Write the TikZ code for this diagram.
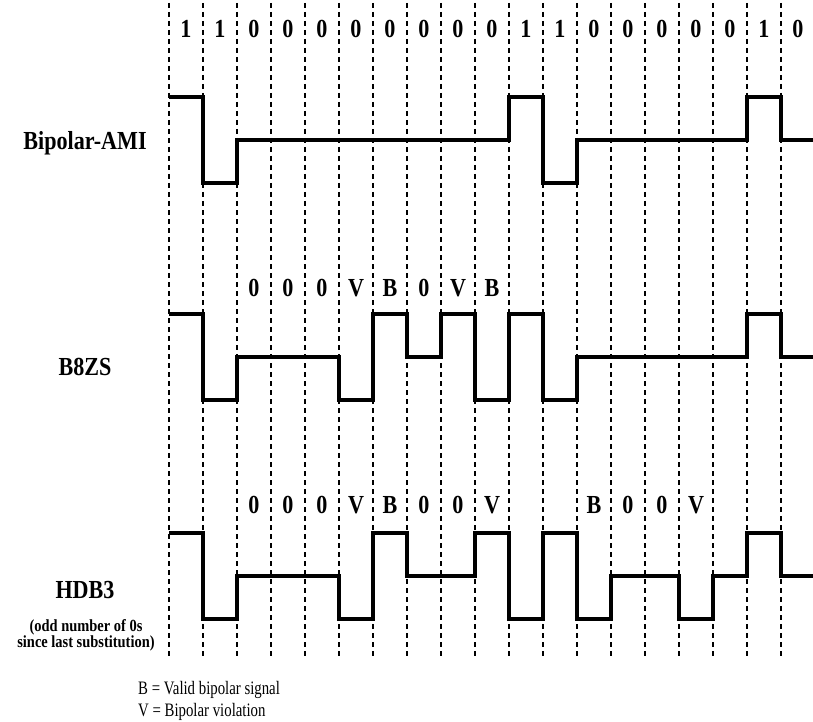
\documentclass[tikz,border=0pt]{standalone}
\usepackage{fontspec}
\setmainfont{Liberation Serif}
\newfontfamily\labelfont{Liberation Serif}[FakeStretch=0.85]
\newfontfamily\keyfont{Liberation Serif}[FakeStretch=0.78]

\begin{document}
\begin{tikzpicture}[
  x=1pt, y=-1pt,
  grid/.style={line width=1.1pt, dash pattern=on 5pt off 4pt},
  wave/.style={line width=3.6pt, line join=miter},
  bit/.style={font=\labelfont\bfseries\fontsize{26}{26}\selectfont, inner sep=0pt},
  code/.style={font=\labelfont\bfseries\fontsize{26}{26}\selectfont, inner sep=0pt},
  note/.style={font=\labelfont\bfseries\fontsize{17}{16}\selectfont, align=center, inner sep=0pt},
  key/.style={font=\keyfont\fontsize{19}{20}\selectfont, anchor=west, inner sep=0pt}
]
  \useasboundingbox (0,0) rectangle (813,722);

  % bit boundaries
  \foreach \k in {0,...,18}
    \draw[grid] (169+34*\k,3) -- (169+34*\k,657);

  % data bits
  \foreach \b [count=\k from 0] in {1,1,0,0,0,0,0,0,0,0,1,1,0,0,0,0,0,1,0}
    \node[bit] (top\k) at (186+34*\k,29) {\b};

  % Row 1: Bipolar-AMI
  \node[code] (ami) at (85,143) {Bipolar-AMI};
  \draw[wave] (169,97) \foreach \l [count=\k from 0] in {1,-1,0,0,0,0,0,0,0,0,1,-1,0,0,0,0,0,1,0}
    { -- (169+34*\k,140-43*\l) -- (203+34*\k,140-43*\l) };

  % Row 2: B8ZS
  \node[code] (bzs) at (85,367) {B8ZS};
  \foreach \b [count=\k from 2] in {0,0,0,V,B,0,V,B}
    \node[bit] (bzs\k) at (186+34*\k,288) {\b};
  \draw[wave] (169,314) \foreach \l [count=\k from 0] in {1,-1,0,0,0,-1,1,0,1,-1,1,-1,0,0,0,0,0,1,0}
    { -- (169+34*\k,357-43*\l) -- (203+34*\k,357-43*\l) };

  % Row 3: HDB3
  \node[code] (hdb) at (85,590) {HDB3};
  \node[note] (hdbnote) at (86,635) {(odd number of 0s\\since last substitution)};
  \foreach \b [count=\k from 2] in {0,0,0,V,B,0,0,V}
    \node[bit] (hdba\k) at (186+34*\k,505) {\b};
  \foreach \b [count=\k from 12] in {B,0,0,V}
    \node[bit] (hdbb\k) at (186+34*\k,505) {\b};
  \draw[wave] (169,533) \foreach \l [count=\k from 0] in {1,-1,0,0,0,-1,1,0,0,1,-1,1,-1,0,0,-1,0,1,0}
    { -- (169+34*\k,576-43*\l) -- (203+34*\k,576-43*\l) };

  % key
  \node[key] (keyb) at (138,690) {B = Valid bipolar signal};
  \node[key] (keyv) at (138,712) {V = Bipolar violation};
\end{tikzpicture}
\end{document}
